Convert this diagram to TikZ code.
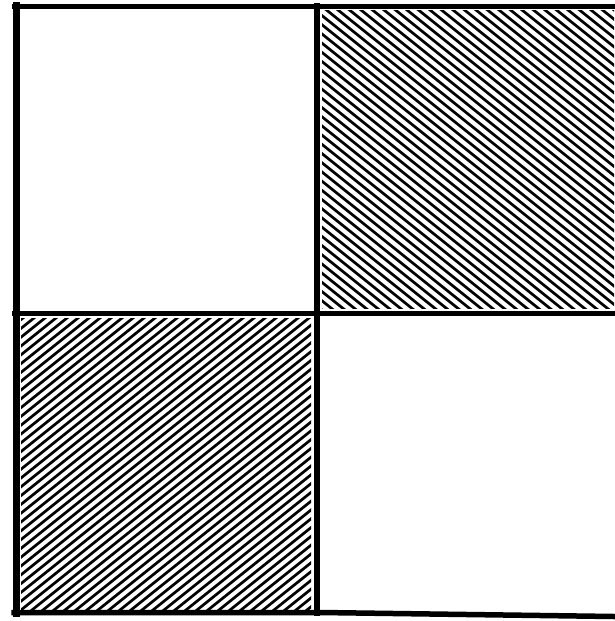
\documentclass[tikz,border=0pt]{standalone}
\begin{document}
\begin{tikzpicture}[x={(1pt,0)},y={(0,-1pt)},
  frame/.style={line width=#1, line cap=rect},
  hatch/.style={line width=2.7pt}]
\useasboundingbox (0,0) rectangle (614,621);
\fill[white] (0,0) rectangle (614,621);
% top-right hatching (\ direction)
\begin{scope}
\clip (322,10) rectangle (614,308);
\foreach \a in {-100,-88.5,...,620} {
  \draw[hatch] (\a,0) -- ++(400,320);
}
\end{scope}
% bottom-left hatching (/ direction)
\begin{scope}
\clip (21,318) rectangle (311,609);
\foreach \a in {-400,-389,...,330} {
  \draw[hatch] (\a,630) -- ++(400,-320);
}
\end{scope}
% frame
\draw[frame=7pt] (16,5) -- (16,613);
\draw[frame=5pt] (14,6) -- (614,6);
\draw[frame=6pt] (316.5,6) -- (316.5,613);
\draw[frame=5pt] (14,313) -- (614,313);
\draw[frame=5.5pt] (14,612.5) -- (320,612.5) -- (614,616.5);
\end{tikzpicture}
\end{document}
